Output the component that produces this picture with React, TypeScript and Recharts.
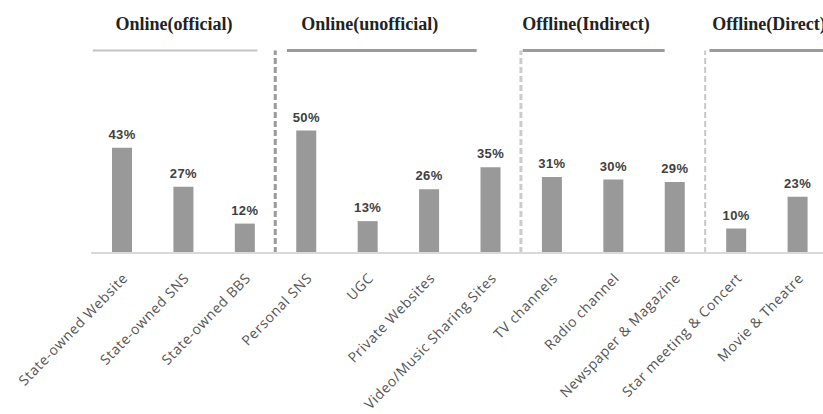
import { Bar, BarChart, LabelList, ReferenceDot, ReferenceLine, XAxis, YAxis } from "recharts";

const CATEGORIES = [
  "State-owned Website",
  "State-owned SNS",
  "State-owned BBS",
  "Personal SNS",
  "UGC",
  "Private Websites",
  "Video/Music Sharing Sites",
  "TV channels",
  "Radio channel",
  "Newspaper & Magazine",
  "Star meeting & Concert",
  "Movie & Theatre",
];
const SHARES = [43, 27, 12, 50, 13, 26, 35, 31, 30, 29, 10, 23];
const GROUPS = ["Online(official)", "Online(unofficial)", "Offline(Indirect)", "Offline(Direct)"];
const GROUP_SIZES = [3, 4, 3, 2];

// pos = middle of each category band, used by the hidden numeric axis
const DATA = CATEGORIES.map((c, i) => ({ c, v: SHARES[i], pos: i + 0.5 }));

// layout of the group headers, in category-band units
const HEADER_CENTER = [1.35, 4.54, 8.06, 11.04];
const HEADER_SPAN = [
  [0.03, 2.71],
  [3.19, 6.28],
  [7.03, 9.34],
  [10.07, 12],
];
const SEP_STYLE = [
  { stroke: "#9a9a9a", w: 3 },
  { stroke: "#cccccc", w: 3 },
  { stroke: "#c8c8c8", w: 2 },
];

const HEAD_Y = 93.5;
const LINE_Y = 82.7;

function CategoryTick({ x, y, payload }: any) {
  const tx = x + 7;
  const ty = y + 26;
  return (
    <text
      x={tx}
      y={ty}
      transform={`rotate(-46 ${tx} ${ty})`}
      textAnchor="end"
      fontFamily="'Open Sans', sans-serif"
      fontSize={14}
      letterSpacing={0.6}
      fill="#555"
    >
      {payload.value}
    </text>
  );
}

export default function App() {
  const bounds = GROUP_SIZES.reduce<number[]>((acc, n) => [...acc, (acc[acc.length - 1] ?? 0) + n], []);
  return (
    <div style={{ position: "absolute", left: 0, top: 0, width: 823, height: 414, overflow: "hidden", background: "#fff" }}>
      <BarChart width={840} height={414} data={DATA} margin={{ top: 8, right: 12, bottom: 0, left: 91 }}>
        <XAxis
          dataKey="c"
          interval={0}
          height={161}
          tickLine={false}
          tickSize={0}
          tickMargin={0}
          axisLine={{ stroke: "#d9d9d9", strokeWidth: 2 }}
          tick={<CategoryTick />}
        />
        <XAxis
          xAxisId="num"
          dataKey="pos"
          type="number"
          domain={[0, CATEGORIES.length]}
          allowDataOverflow
          hide
        />
        <YAxis domain={[0, 100]} allowDataOverflow hide />
        {bounds.slice(0, -1).map((b, i) => (
          <ReferenceLine
            key={`sep${i}`}
            xAxisId="num"
            segment={[
              { x: b, y: 0 },
              { x: b, y: LINE_Y },
            ]}
            stroke={SEP_STYLE[i].stroke}
            strokeWidth={SEP_STYLE[i].w}
            strokeDasharray="6 3"
            ifOverflow="visible"
          />
        ))}
        {GROUPS.map((g, i) => (
          <ReferenceLine
            key={`hl${i}`}
            xAxisId="num"
            segment={[
              { x: HEADER_SPAN[i][0], y: LINE_Y },
              { x: HEADER_SPAN[i][1], y: LINE_Y },
            ]}
            stroke={i === 0 ? "#c4c4c4" : "#9a9a9a"}
            strokeWidth={i === 0 ? 2 : 3}
            ifOverflow="visible"
          />
        ))}
        {GROUPS.map((g, i) => (
          <ReferenceDot
            key={`hd${i}`}
            xAxisId="num"
            x={HEADER_CENTER[i]}
            y={HEAD_Y}
            r={0}
            stroke="none"
            ifOverflow="visible"
            label={{
              value: g,
              position: "center",
              fontFamily: "'Liberation Serif', serif",
              fontWeight: 700,
              fontSize: 18,
              fill: "#222",
            }}
          />
        ))}
        <Bar dataKey="v" fill="#999999" barSize={20} isAnimationActive={false}>
          <LabelList
            dataKey="v"
            position="top"
            offset={9}
            formatter={(v: any) => `${v}%`}
            style={{ fontFamily: "'Liberation Sans', Arial, sans-serif", fontWeight: 700, fontSize: 13, fill: "#404040", letterSpacing: 0.4 }}
          />
        </Bar>
      </BarChart>
    </div>
  );
}
